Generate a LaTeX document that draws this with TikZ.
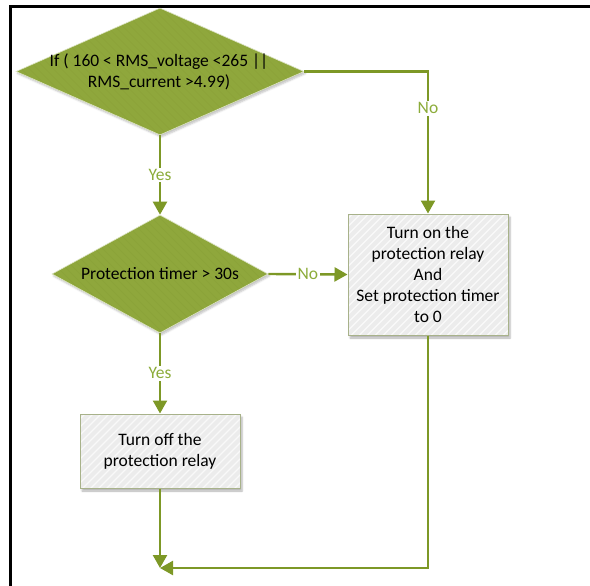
\documentclass[tikz,border=0pt]{standalone}
\usepackage{fontspec}
\setmainfont{Carlito}
\usetikzlibrary{shapes.geometric,arrows.meta,shadows.blur}

\definecolor{leaf}{RGB}{143,167,60}
\definecolor{leafline}{RGB}{128,150,50}
\definecolor{wire}{RGB}{125,152,38}
\definecolor{tag}{RGB}{140,172,58}
\definecolor{boxfill}{RGB}{236,236,236}
\definecolor{boxedge}{RGB}{168,178,138}

\begin{document}
\begin{tikzpicture}[x=1pt,y=-1pt,
  every node/.style={font=\fontsize{17.5}{21}\selectfont},
  decision/.style={diamond,fill=leaf,draw=white!70!leaf,line width=0.6pt,
    inner sep=0pt,
    blur shadow={shadow blur steps=5,shadow xshift=1.5pt,shadow yshift=-2pt,shadow opacity=25},
    path picture={
      \foreach \k in {-240,-232,...,240}
        \draw[leafline,opacity=.25,line width=.5pt]
          ([xshift=\k pt-150pt,yshift=150pt]path picture bounding box.center) -- ++(300pt,-300pt);
    }},
  action/.style={rectangle,fill=boxfill,draw=boxedge,line width=1pt,inner sep=0pt,
    align=center,
    blur shadow={shadow blur steps=5,shadow xshift=2pt,shadow yshift=-3pt,shadow opacity=30},
    path picture={
      \foreach \k in {-240,-232,...,240}
        \draw[white,opacity=.7,line width=1.2pt]
          ([xshift=\k pt-150pt,yshift=-150pt]path picture bounding box.center) -- ++(300pt,300pt);
    }},
  caption/.style={align=center,text=black,inner sep=0pt},
  flow/.style={draw=wire,line width=2.4pt,-{Triangle[length=13pt,width=14pt]}},
  answer/.style={text=tag,fill=white,inner sep=1.5pt}
]
  \useasboundingbox (0,0) rectangle (590,586);

  % frame
  \draw[line width=3pt] (590,7) -- (10,7) -- (10,586);

  % shapes
  \node[decision,minimum width=288pt,minimum height=127pt] (d1) at (160,71.5) {};
  \node[caption] (d1t) at (159,72) {If ( 160 < RMS\_voltage <265 ||\\RMS\_current >4.99)};

  \node[decision,minimum width=216pt,minimum height=118pt] (d2) at (160,274) {};
  \node[caption] (d2t) at (160,274) {Protection timer > 30s};

  \node[action,minimum width=160pt,minimum height=121pt] (b1) at (428,274.5)
    {Turn on the\\protection relay\\And\\Set protection timer\\to 0};

  \node[action,minimum width=160pt,minimum height=74pt] (b2) at (160,451)
    {Turn off the\\protection relay};

  \coordinate (join) at (160,568);

  % connectors
  \draw[flow] (d1.east) -| node[answer,pos=0.63] {No} (b1.north);
  \draw[flow] (d1.south) -- node[answer] {Yes} (d2.north);
  \draw[flow] (d2.east) -- node[answer] {No} (b1.west);
  \draw[flow] (d2.south) -- node[answer] {Yes} (b2.north);
  \draw[flow] (b2.south) -- (join);
  \draw[flow] (b1.south) |- (join);
\end{tikzpicture}
\end{document}
